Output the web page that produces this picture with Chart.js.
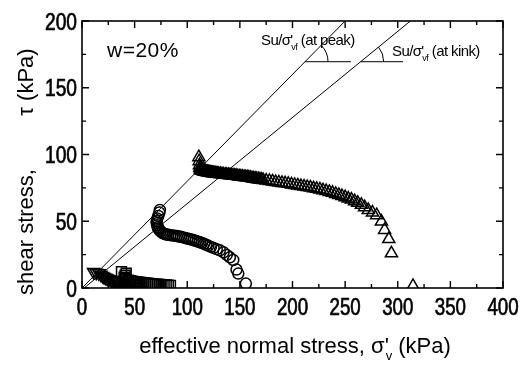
<!DOCTYPE html>
<html>
<head>
<meta charset="utf-8">
<script src="https://cdn.jsdelivr.net/npm/chart.js@4.4.0/dist/chart.umd.min.js"></script>
<style>
  html, body { margin: 0; padding: 0; background: #fff; }
</style>
</head>
<body>
<canvas id="chart" width="523" height="365"></canvas>
<script>
const FONT = "'Liberation Sans', Arial, sans-serif";

// axis ranges and tick labels
const xTicks = [0, 50, 100, 150, 200, 250, 300, 350, 400];
const yTicks = [0, 50, 100, 150, 200];
const xMinor = 25;
const yMinor = 25;

// test data: [sigma'v, tau] in kPa
const triangles = [
  [111,98],[111.3,95],[111.6,92],[112,90],[112.5,89],[113,88.4],[113.5,88.2],[114,88],[114.5,87.8],
  [115,87.6],[116,87.3],[117,87.1],[117.5,87],[118.5,86.9],[119,86.8],[120,86.7],[120.5,86.6],
  [121.5,86.5],[122,86.4],[123,86.2],[124,86.1],[125,86],[126,85.8],[127,85.7],[128,85.6],
  [129,85.5],[130,85.4],[131.5,85.3],[133,85.2],[134.5,85],[136,84.9],[137.5,84.8],[139,84.7],
  [140.5,84.5],[142,84.4],[143.5,84.2],[145,84.1],[146.5,84],[148,83.8],[149.5,83.6],[151,83.5],
  [152.5,83.3],[154,83.2],[155.5,83],[157,82.9],[158.5,82.7],[160,82.5],[161.5,82.3],[163,82.1],
  [164.5,81.9],[166,81.7],[167.5,81.5],[169,81.3],[170.5,81.1],[172,80.9],[175,80.5],[178,80.2],
  [181,79.8],[184,79.4],[187,79.1],[190,78.7],[193,78.4],[196,78],[199,77.6],[202,77.2],
  [205,76.8],[208,76.4],[211,76],[214,75.6],[217,75.2],[220,74.7],[223,74.3],[226,73.8],
  [229,73.2],[232,72.6],[235,72],[238,71.3],[241,70.5],[244,69.7],[247,68.9],[250,68],
  [253,67],[256,66.2],[259,65],[262,63.8],[265.5,62.3],[268.5,60.5],[272,58.4],[276,56.5],
  [280,54.5],[284.5,49.8],[287.5,43.5],[291.5,36.7],[294,26],[314.5,1.5]
];
const circles = [
  [74,58.5],[73.5,56.5],[72.5,54],[71.5,52],[71,50],[71,48.5],[71.5,47],[72,45.5],[72.5,44.5],
  [73.5,43.5],[74.5,42.5],[76,41.5],[77.5,40.8],[79,40.3],[80.5,40],[82,39.8],[84,39.6],
  [86,39.4],[88,39.2],[90,38.9],[92,38.6],[94,38.3],[96,37.9],[98,37.5],[100,37.1],[102,36.7],
  [104,36.3],[106,35.8],[108,35.3],[110,34.8],[112,34.3],[114,33.7],[116,33.1],[118,32.4],
  [120,31.6],[122.5,30.8],[125,30],[128,29.1],[131,28.2],[134.5,26.7],[137.5,24.8],[140.5,23],
  [143.7,21],[146.8,13.8],[148.5,10.8],[155.7,3.3]
];
const downTriangles = [
  [11,12],[13.5,11.5],[16,11],[18,10],[19.5,9],[21,8.2],[22.5,7.6],[24,7.1],[25.5,6.6],[27,6.2],
  [28.5,5.8],[30,5.5],[31.5,5.2],[33,5],[34.5,4.8],[36,4.6],[38,4.4],[40,4.2],[42,4],[44,3.9],
  [46,3.8],[48,3.7],[50,3.6]
];
const squares = [
  [37.5,12.3],[42,11],[41,9.5],[40,8],[40.5,7],[42,6.3],[44,5.8],[46,5.4],[48,5.1],[50,4.8],
  [52,4.6],[54,4.4],[56,4.2],[58,4],[60,3.8],[62,3.6],[64,3.4],[66,3.2],[68,3],[70,2.9],
  [72,2.8],[74,2.6],[76,2.5],[78,2.3],[80,2.2],[82,2.1],[84,2]
];

// Su/sigma'vf lines and the horizontal legs of the angle marks
const peakLine = [[0,0],[250,200]];
const kinkLine = [[2,0],[312,200]];
const peakLeg = [[211.9,169.5],[255.5,169.5]];
const kinkLeg = [[264.8,169.5],[305,169.5]];

const toXY = arr => arr.map(p => ({ x: p[0], y: p[1] }));

function markers(data, style, radius, rotation) {
  return {
    data: toXY(data),
    pointStyle: style,
    pointRadius: radius,
    rotation: rotation || 0,
    borderColor: '#000',
    backgroundColor: 'rgba(255,255,255,0)',
    pointBorderWidth: 1.5,
    showLine: false
  };
}

function line(data) {
  return {
    data: toXY(data),
    showLine: true,
    pointRadius: 0,
    borderColor: '#000',
    borderWidth: 1
  };
}

// base + (prime over subscript) + rest
function richText(ctx, x, y, size, pre, sub, post, align, spacing) {
  const small = Math.round(size * 0.6);
  ctx.letterSpacing = (spacing || 0) + 'px';
  ctx.font = size + 'px ' + FONT;
  const wPre = ctx.measureText(pre).width;
  const wPrime = ctx.measureText("'").width;
  const wPost = ctx.measureText(post).width;
  ctx.font = small + 'px ' + FONT;
  const wSub = ctx.measureText(sub).width;
  const wMid = Math.max(wPrime, wSub + 1);
  const total = wPre + wMid + wPost;
  if (align === 'center') x -= total / 2;
  ctx.textAlign = 'left';
  ctx.textBaseline = 'alphabetic';
  ctx.font = size + 'px ' + FONT;
  ctx.fillText(pre, x, y);
  ctx.fillText("'", x + wPre, y);
  ctx.fillText(post, x + wPre + wMid, y);
  ctx.font = small + 'px ' + FONT;
  ctx.fillText(sub, x + wPre + 1, y + size * 0.3);
  ctx.letterSpacing = '0px';
}

// narrow, heavy numbers like the original plot
function squeezed(ctx, text, x, y, align, sx) {
  ctx.save();
  ctx.translate(x, y);
  ctx.scale(sx, 1);
  ctx.textAlign = align;
  ctx.lineWidth = 0.7;
  ctx.fillText(text, 0, 0);
  ctx.strokeText(text, 0, 0);
  ctx.restore();
}

const decor = {
  id: 'decor',
  afterDatasetsDraw(chart) {
    const ctx = chart.ctx;
    const { left, right, top, bottom } = chart.chartArea;
    const xs = chart.scales.x, ys = chart.scales.y;
    ctx.save();
    ctx.strokeStyle = '#000';
    ctx.fillStyle = '#000';

    // frame
    ctx.lineWidth = 1.6;
    ctx.strokeRect(left, top, right - left, bottom - top);

    // inward ticks on all four sides
    ctx.lineWidth = 1.4;
    ctx.beginPath();
    for (let v = xs.min; v <= xs.max; v += xMinor) {
      const px = xs.getPixelForValue(v);
      const len = xTicks.includes(v) ? 7 : 4;
      ctx.moveTo(px, bottom); ctx.lineTo(px, bottom - len);
      ctx.moveTo(px, top); ctx.lineTo(px, top + len);
    }
    for (let v = ys.min; v <= ys.max; v += yMinor) {
      const py = ys.getPixelForValue(v);
      const len = yTicks.includes(v) ? 7 : 4;
      ctx.moveTo(left, py); ctx.lineTo(left + len, py);
      ctx.moveTo(right, py); ctx.lineTo(right - len, py);
    }
    ctx.stroke();

    // tick labels
    ctx.font = '24px ' + FONT;
    ctx.textBaseline = 'alphabetic';
    xTicks.forEach(v => squeezed(ctx, String(v), xs.getPixelForValue(v), 315, 'center', 0.78));
    yTicks.forEach(v => squeezed(ctx, String(v), 77, ys.getPixelForValue(v) + 8.5, 'right', 0.8));

    // angle arcs
    ctx.lineWidth = 1;
    [[peakLine, peakLeg], [kinkLine, kinkLeg]].forEach(([ln, leg]) => {
      const cx = xs.getPixelForValue(leg[0][0]);
      const cy = ys.getPixelForValue(leg[0][1]);
      const dx = xs.getPixelForValue(ln[1][0]) - xs.getPixelForValue(ln[0][0]);
      const dy = ys.getPixelForValue(ln[1][1]) - ys.getPixelForValue(ln[0][1]);
      ctx.beginPath();
      ctx.arc(cx, cy, 23, Math.atan2(dy, dx), 0);
      ctx.stroke();
    });

    // labels
    richText(ctx, 261, 45, 15, 'Su/\u03c3', 'vf', ' (at peak)', 'left', -0.6);
    richText(ctx, 392, 56, 15, 'Su/\u03c3', 'vf', ' (at kink)', 'left', -0.6);

    ctx.font = '21px ' + FONT;
    ctx.letterSpacing = '0.5px';
    ctx.textAlign = 'left';
    ctx.fillText('w=20%', 107, 57);
    ctx.letterSpacing = '0px';

    // axis titles
    richText(ctx, 295, 353, 22, 'effective normal stress, \u03c3', 'v', ' (kPa)', 'center');

    ctx.font = '22px ' + FONT;
    ctx.textAlign = 'center';
    ctx.save();
    ctx.translate(33, 232);
    ctx.rotate(-Math.PI / 2);
    ctx.fillText('shear stress,', 0, 0);
    ctx.restore();
    ctx.save();
    ctx.translate(33, 82);
    ctx.rotate(-Math.PI / 2);
    ctx.fillText('\u03c4 (kPa)', 0, 0);
    ctx.restore();

    ctx.restore();
  }
};

new Chart(document.getElementById('chart'), {
  type: 'scatter',
  data: {
    datasets: [
      line(peakLine),
      line(kinkLine),
      line(peakLeg),
      line(kinkLeg),
      markers(triangles, 'triangle', 7),
      markers(circles, 'circle', 5.5),
      markers(squares, 'rect', 7),
      markers(downTriangles, 'triangle', 7, 180)
    ]
  },
  options: {
    responsive: false,
    animation: false,
    devicePixelRatio: 1,
    layout: { padding: { top: 21, right: 20, left: 0, bottom: 0 } },
    plugins: { legend: { display: false }, tooltip: { enabled: false } },
    scales: {
      x: {
        type: 'linear', min: 0, max: 400,
        grid: { display: false, drawTicks: false },
        border: { display: false },
        afterBuildTicks: s => { s.ticks = xTicks.map(v => ({ value: v })); },
        afterFit: s => { s.height = 77; },
        ticks: { display: false }
      },
      y: {
        type: 'linear', min: 0, max: 200,
        grid: { display: false, drawTicks: false },
        border: { display: false },
        afterBuildTicks: s => { s.ticks = yTicks.map(v => ({ value: v })); },
        afterFit: s => { s.width = 82; },
        ticks: { display: false }
      }
    }
  },
  plugins: [decor]
});
</script>
</body>
</html>
